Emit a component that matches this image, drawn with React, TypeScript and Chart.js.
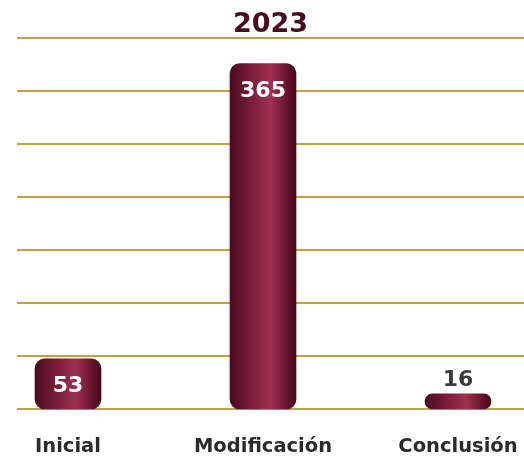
import React, { useEffect, useRef } from "react";
import { Chart, registerables } from "chart.js";

Chart.register(...registerables);

const categories = ["Inicial", "Modificación", "Conclusión"];
const values = [53, 365, 16];
const title = "2023";
const yMax = 392;
const yStep = 56;

const FONT = "'DejaVu Sans', 'Open Sans', sans-serif";
const GOLD = "#C89F38";

export default function App() {
  const ref = useRef<HTMLCanvasElement | null>(null);

  useEffect(() => {
    document.body.style.margin = "0";
    const canvas = ref.current;
    if (!canvas) return;

    const gridPlugin = {
      id: "fullGrid",
      beforeDatasetsDraw(chart: any) {
        const ctx = chart.ctx;
        const y = chart.scales.y;
        ctx.save();
        ctx.strokeStyle = GOLD;
        ctx.lineWidth = 2;
        (y.ticks || []).forEach((t: any) => {
          const py = Math.round(y.getPixelForValue(t.value));
          ctx.beginPath();
          ctx.moveTo(17, py);
          ctx.lineTo(chart.width, py);
          ctx.stroke();
        });
        ctx.restore();
      },
    };

    const labelPlugin = {
      id: "labels",
      afterDatasetsDraw(chart: any) {
        const ctx = chart.ctx;
        const meta = chart.getDatasetMeta(0);
        ctx.save();
        ctx.textAlign = "center";
        ctx.textBaseline = "alphabetic";
        meta.data.forEach((bar: any, i: number) => {
          const h = bar.base - bar.y;
          const txt = String(values[i]);
          ctx.font = `bold 22px ${FONT}`;
          if (h > 40) {
            ctx.fillStyle = "#ffffff";
            ctx.fillText(txt, bar.x, bar.y + 33);
          } else {
            ctx.fillStyle = "#3a3a3a";
            ctx.fillText(txt, bar.x, bar.y - 8);
          }
        });
        ctx.font = `bold 27px ${FONT}`;
        ctx.fillStyle = "#4a0a22";
        ctx.fillText(title, (17 + chart.width) / 2, 32);
        ctx.restore();
      },
    };

    const chart = new Chart(canvas, {
      type: "bar",
      data: {
        labels: categories,
        datasets: [
          {
            data: values,
            barThickness: 66,
            borderRadius: 10,
            borderSkipped: false,
            clip: false as any,
            backgroundColor: (c: any) => {
              const ch = c.chart;
              if (!ch.chartArea || !ch.scales.x) return "#7a1d3a";
              const cx = ch.scales.x.getPixelForValue(c.dataIndex);
              const g = ch.ctx.createLinearGradient(cx - 33, 0, cx + 33, 0);
              g.addColorStop(0, "#4a0a1f");
              g.addColorStop(0.3, "#761b38");
              g.addColorStop(0.62, "#9e3150");
              g.addColorStop(0.85, "#6a1430");
              g.addColorStop(1, "#420818");
              return g;
            },
          },
        ],
      },
      options: {
        animation: false,
        responsive: false,
        maintainAspectRatio: false,
        layout: { padding: { top: 38, left: 68, right: 66, bottom: 0 } },
        plugins: {
          legend: { display: false },
          title: { display: false },
          tooltip: { enabled: false },
        },
        scales: {
          x: {
            offset: false,
            grid: { display: false, drawTicks: false },
            border: { display: false },
            afterFit: (s: any) => {
              s.height = 47;
              s.paddingLeft = 0;
              s.paddingRight = 0;
            },
            ticks: {
              padding: 28,
              color: "#2b2b2b",
              font: { family: FONT, size: 19.5, weight: "bold", lineHeight: 1 },
              maxRotation: 0,
              autoSkip: false,
            },
          },
          y: {
            display: false,
            min: 0,
            max: yMax,
            ticks: { stepSize: yStep },
          },
        },
      },
      plugins: [gridPlugin, labelPlugin],
    });

    return () => chart.destroy();
  }, []);

  return (
    <div style={{ position: "fixed", left: 0, top: 0, width: 524, height: 456 }}>
      <canvas ref={ref} width={524} height={456} style={{ width: 524, height: 456, display: "block" }} />
    </div>
  );
}
